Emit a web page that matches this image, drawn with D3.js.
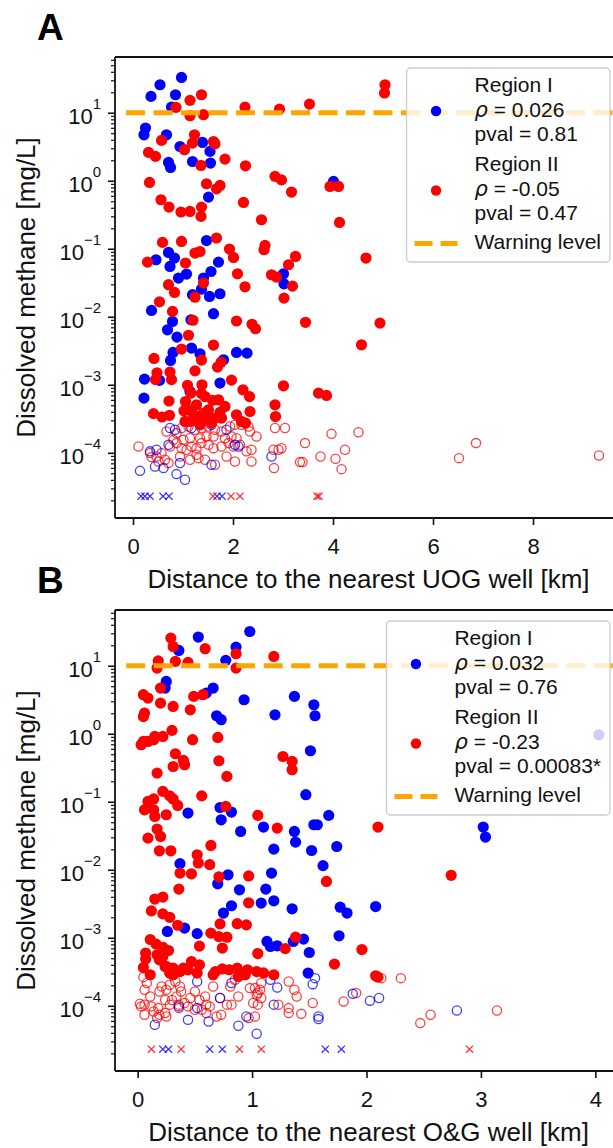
<!DOCTYPE html>
<html lang="en">
<head>
<meta charset="UTF-8">
<title>Dissolved methane vs distance to wells</title>
<script src="https://d3js.org/d3.v7.min.js"></script>
<style>
  body { margin: 0; background: #fff; }
  svg { display: block; font-family: "Liberation Sans", Arial, sans-serif; }
  .domain { display: none; }
  .tick line { stroke: #111; stroke-width: 1.6px; }
</style>
</head>
<body>
<svg id="chart" width="613" height="1148"></svg>
<script>
// ---- DATA: [distance km, methane mg/L] ----
// panel A, nearest UOG well
var uogR1Filled = [[0.54,25.8],[0.97,33],[0.36,17.4],[0.85,18.4],[0.77,12.1],[0.25,5.96],[0.22,4.74],[0.67,4.74],[0.94,3.19],[1.39,3.66],
  [1.54,2.70],[0.71,1.86],[0.75,1.57],[1.19,1.92],[1.55,1.82],[1.51,0.575],[1.47,0.132],[0.46,0.0689],[0.71,0.0883],[0.83,0.0730],
  [0.74,0.0550],[0.91,0.0371],[1.07,0.0425],[1.71,0.0637],[1.56,0.0463],[1.41,0.0371],[1.37,0.0255],[1.19,0.0211],[1.53,0.0199],[1.74,0.0218],
  [3.01,0.0429],[3.02,0.0305],[0.37,0.0124],[1.61,0.0111],[0.79,0.00853],[0.69,0.00644],[1.16,0.00904],[0.88,0.00502],[1.17,0.00347],[0.80,0.00299],
  [0.75,0.00228],[1.34,0.00286],[2.07,0.00299],[2.28,0.00292],[1.81,0.00233],[0.23,0.00121],[0.53,0.00116],[0.22,0.000637],[1.74,0.00106],[1.14,0.000797],
  [4.01,0.977]];
var uogR2Filled = [[1.14,15.2],[1.37,18.4],[0.86,12.0],[1.14,9.04],[1.41,9.35],[2.24,12.1],[2.93,11.3],[3.53,13.4],[5.04,25.8],[5.03,19.5],
  [0.57,3.92],[1.23,4.74],[1.19,3.58],[1.61,3.78],[1.64,3.50],[1.03,2.86],[0.31,2.61],[0.45,2.28],[1.36,1.68],[1.84,2.08],
  [2.25,1.66],[2.84,1.16],[2.97,1.03],[0.33,0.944],[1.47,0.904],[1.74,0.853],[1.67,0.762],[3.17,0.682],[0.56,0.526],[0.72,0.410],
  [0.96,0.347],[1.14,0.354],[1.37,0.410],[1.36,0.299],[2.21,0.480],[2.57,0.267],[3.94,0.824],[4.11,0.824],[4.13,0.244],[0.59,0.124],
  [0.97,0.128],[1.67,0.144],[1.24,0.0865],[1.34,0.0912],[1.93,0.0991],[2.01,0.0745],[2.64,0.112],[2.62,0.0967],[3.25,0.0771],[3.11,0.0582],
  [0.29,0.0637],[1.05,0.0616],[2.09,0.0429],[2.77,0.0415],[2.87,0.0384],[4.66,0.0730],[0.71,0.0296],[0.83,0.0228],[1.41,0.0313],[2.24,0.0276],
  [3.19,0.0282],[3.02,0.0188],[1.24,0.0194],[0.53,0.0166],[0.79,0.0120],[1.20,0.00889],[2.07,0.00867],[2.38,0.00776],[2.45,0.00667],[3.45,0.00830],
  [4.94,0.00807],[4.57,0.00387],[1.11,0.00535],[1.61,0.00384],[0.97,0.00335],[0.42,0.00244],[1.37,0.00231],[1.76,0.00214],[1.69,0.00182],[0.74,0.00154],
  [0.48,0.00150],[1.24,0.00160],[0.45,0.00119],[0.77,0.00119],[1.97,0.00117],[2.20,0.000844],[2.33,0.000672],[3.01,0.000966],[1.09,0.000984],[1.38,0.00100],
  [1.16,0.000755],[1.37,0.000743],[1.44,0.000672],[3.71,0.000755],[3.87,0.000697],[0.72,0.000578],[1.05,0.000568],[1.59,0.000591],[1.71,0.000601],[2.84,0.000508],
  [2.85,0.000342],[2.34,0.000405],[0.41,0.000377],[0.58,0.000336],[0.73,0.000356],[1.11,0.000429],[1.21,0.000362],[1.14,0.000289],[1.31,0.000324],[1.41,0.000384],
  [1.51,0.000429],[1.57,0.000274],[1.64,0.000324],[1.74,0.000395],[1.77,0.000324],[1.04,0.000289],[1.34,0.000258],[1.84,0.000480],[1.27,0.000508],[2.07,0.000362],
  [2.17,0.000289],[2.25,0.000274],[1.02,0.000415],[1.48,0.000305]];
var uogR1Open = [[0.14,5.43e-5],[0.44,6.3e-5],[0.61,5.96e-5],[0.87,4.86e-5],[1.04,4.01e-5],[0.94,7.06e-5],[0.34,1.05e-4],[0.47,1.11e-4],[0.71,1.31e-4],
  [0.74,2.31e-4],[0.84,2.18e-4],[1.17,2.31e-4],[1.57,2.58e-4],[1.87,2.18e-4],[1.57,6.67e-5],[2.04,1.31e-4],[2.11,1.24e-4],[2.77,8.83e-5]];
var uogR2Open = [[0.11,1.24e-4],[0.34,9.9e-5],[0.37,8.65e-5],[0.47,8.83e-5],[0.57,9.9e-5],[0.64,7.89e-5],[0.51,7.45e-5],[0.71,7.06e-5],[0.67,2.06e-4],[0.87,1.95e-4],
  [0.97,2.31e-4],[1.11,2.44e-4],[1.24,2.18e-4],[1.37,2.31e-4],[1.51,2.44e-4],[1.64,2.18e-4],[1.77,2.06e-4],[1.94,2.44e-4],[2.04,2.58e-4],[2.17,2.58e-4],
  [2.31,2.44e-4],[2.34,2.06e-4],[0.74,1.24e-4],[0.87,1.39e-4],[0.97,1.17e-4],[1.07,1.11e-4],[1.17,1.24e-4],[1.27,1.17e-4],[1.37,1.39e-4],[1.51,1.31e-4],
  [1.61,1.17e-4],[1.77,1.24e-4],[1.91,1.39e-4],[2.01,1.24e-4],[2.07,1.64e-4],[2.14,1.31e-4],[2.27,1.05e-4],[2.37,1.11e-4],[0.81,1.55e-4],[1.01,1.55e-4],
  [1.14,1.64e-4],[1.34,1.64e-4],[1.47,1.74e-4],[1.61,1.74e-4],[1.84,1.64e-4],[1.97,1.74e-4],[0.94,8.83e-5],[1.14,7.89e-5],[1.31,8.35e-5],[1.44,7.89e-5],
  [1.64,6.67e-5],[1.87,8.83e-5],[2.04,7.45e-5],[2.37,7.45e-5],[1.27,9.35e-5],[2.47,1.74e-4],[2.84,2.31e-4],[2.91,1.11e-4],[2.81,1.11e-4],[2.97,1.17e-4],
  [2.82,5.96e-5],[3.04,2.31e-4],[3.44,1.39e-4],[3.97,1.90e-4],[4.51,2.01e-4],[3.39,7.3e-5],[3.34,7.3e-5],[3.75,8.83e-5],[4.05,8.17e-5],[4.24,1.11e-4],
  [4.17,5.75e-5],[6.52,8.35e-5],[6.86,1.39e-4],[9.32,9.12e-5]];
var uogR1Cross = [0.16, 0.24, 0.34, 0.60, 0.72, 1.68, 1.78];
var uogR2Cross = [1.60, 1.96, 2.14, 3.68, 3.72];

// panel B, nearest O&G well
var ogR1Filled = [[0.53,26.4],[0.98,31.9],[0.36,16.8],[0.86,18.8],[0.77,12.0],[0.25,5.87],[0.24,4.70],[0.66,4.70],[0.60,3.97],[0.93,3.16],
  [0.69,1.84],[0.73,1.61],[1.20,1.90],[1.37,3.54],[1.54,2.67],[1.55,1.84],[1.51,0.562],[4.03,0.966],[1.47,0.127],[0.44,0.0682],
  [0.72,0.0824],[0.73,0.0543],[0.82,0.0706],[0.90,0.0366],[1.10,0.0425],[1.19,0.0201],[1.37,0.0366],[1.38,0.0255],[1.67,0.0630],[1.54,0.0459],
  [1.57,0.0459],[1.52,0.0192],[1.74,0.0220],[1.62,0.0115],[3.02,0.0425],[3.04,0.0303],[0.37,0.0123],[0.79,0.00843],[0.70,0.00622],[1.17,0.00893],
  [0.89,0.00508],[1.12,0.00520],[0.82,0.00296],[0.75,0.00231],[1.08,0.00324],[1.19,0.00350],[1.35,0.00267],[0.26,0.00124],[0.41,0.00139],[0.52,0.00115],
  [1.13,0.000883],[1.16,0.000745],[1.22,0.000762],[1.36,0.000883],[1.45,0.000957],[1.50,0.000608],[1.49,0.000303],[1.77,0.00282],[1.83,0.00231],[2.08,0.00288],
  [1.76,0.00107]];
var ogR2Filled = [[0.29,25.5],[0.31,19.2],[0.59,17.8],[0.44,11.2],[0.18,11.8],[0.17,9.25],[0.33,11.6],[0.86,15.0],[0.86,9.25],[1.19,13.7],
  [0.20,4.70],[0.05,3.75],[0.09,3.35],[0.20,2.82],[0.31,2.52],[0.49,3.54],[0.57,3.75],[0.46,2.25],[0.05,1.79],[0.06,2.01],
  [0.05,0.771],[0.03,0.689],[0.09,0.771],[0.15,0.912],[0.14,0.817],[0.22,0.912],[0.30,1.12],[0.48,0.817],[0.70,0.883],[0.33,0.508],
  [0.31,0.330],[0.40,0.405],[0.41,0.350],[0.71,0.401],[0.17,0.264],[0.78,0.236],[1.27,0.463],[1.35,0.392],[1.35,0.296],[0.56,0.122],
  [0.22,0.142],[0.28,0.122],[0.31,0.110],[0.14,0.110],[0.09,0.101],[0.06,0.0762],[0.14,0.0762],[0.15,0.0608],[0.25,0.0644],[0.35,0.0883],
  [0.77,0.0853],[1.05,0.0630],[1.22,0.0410],[0.09,0.0292],[0.17,0.0397],[0.20,0.0309],[0.19,0.0190],[0.29,0.0190],[0.52,0.0166],[0.64,0.0228],
  [0.63,0.0119],[0.53,0.0126],[0.37,0.00893],[0.47,0.00873],[0.71,0.00788],[0.97,0.00811],[2.10,0.0425],[2.74,0.00830],[1.65,0.00673],[0.36,0.00520],
  [0.15,0.00371],[0.22,0.00397],[0.97,0.00327],[0.12,0.00249],[0.22,0.00225],[0.28,0.00200],[0.35,0.00153],[0.72,0.00160],[0.87,0.00161],[0.95,0.00155],
  [0.64,0.00117],[0.71,0.00104],[0.78,0.00102],[0.74,0.000706],[0.54,0.000755],[0.11,0.000944],[0.16,0.000811],[0.22,0.000725],[0.27,0.000650],[0.07,0.000596],
  [0.07,0.000488],[0.17,0.000562],[0.22,0.000531],[0.25,0.000379],[1.05,0.000587],[1.29,0.000693],[1.38,0.00102],[0.05,0.000365],[0.11,0.000286],[0.19,0.000474],
  [0.24,0.000379],[0.31,0.000358],[0.28,0.000303],[0.37,0.000319],[0.47,0.000448],[0.54,0.000401],[0.44,0.000338],[0.52,0.000303],[0.68,0.000319],[0.74,0.000348],
  [0.66,0.000286],[0.87,0.000358],[0.96,0.000338],[1.04,0.000319],[1.10,0.000305],[0.94,0.000286],[0.88,0.000270],[1.19,0.000286],[1.96,0.000673],[1.72,0.000410],
  [2.08,0.000276],[2.10,0.000264],[0.40,0.000358],[0.31,0.000286],[0.80,0.000339]];
var ogR1Open = [[0.52,2.28e-4],[0.15,5.26e-5],[0.44,6.22e-5],[0.62,5.87e-5],[0.72,1.30e-4],[0.88,5.08e-5],[1.04,3.88e-5],[0.36,9.8e-5],[0.52,9.25e-5],[0.82,2.16e-4],
  [0.95,6.97e-5],[1.16,2.41e-4],[1.22,1.86e-4],[1.19,1.04e-4],[1.55,2.55e-4],[1.53,2.08e-4],[1.58,6.97e-5],[1.58,6.37e-5],[1.88,1.50e-4],[2.03,1.19e-4],
  [2.11,1.30e-4],[2.79,8.53e-5]];
var ogR2Open = [[0.05,2.64e-4],[0.08,2.16e-4],[0.06,1.72e-4],[0.11,1.37e-4],[0.02,1.07e-4],[0.06,1.04e-4],[0.12,9.8e-5],[0.18,9.25e-5],[0.06,7.38e-5],[0.14,8.24e-5],
  [0.19,7.38e-5],[0.24,7.82e-5],[0.21,1.92e-4],[0.19,1.62e-4],[0.25,1.72e-4],[0.28,2.04e-4],[0.33,2.28e-4],[0.37,1.92e-4],[0.38,1.62e-4],[0.34,1.37e-4],
  [0.30,1.22e-4],[0.24,1.22e-4],[0.28,1.04e-4],[0.36,1.04e-4],[0.41,1.10e-4],[0.46,1.30e-4],[0.50,1.62e-4],[0.54,1.22e-4],[0.59,1.37e-4],[0.60,1.04e-4],
  [0.56,8.73e-5],[0.63,9.8e-5],[0.66,1.92e-4],[0.72,1.30e-4],[0.78,1.04e-4],[0.81,1.92e-4],[0.85,2.41e-4],[0.88,1.37e-4],[0.82,1.04e-4],[0.73,7.38e-5],
  [0.69,6.97e-5],[0.60,7.82e-5],[0.50,8.73e-5],[0.44,9.8e-5],[0.36,9.25e-5],[0.25,6.97e-5],[0.17,6.59e-5],[0.03,9.8e-5],[0.97,6.59e-5],[0.98,1.82e-4],
  [1.01,1.10e-4],[1.05,1.54e-4],[1.08,2.16e-4],[1.025,1.82e-4],[1.07,1.72e-4],[1.04,1.45e-4],[1.08,1.30e-4],[1.05,1.04e-4],[1.025,6.97e-5],[1.32,2.28e-4],
  [1.37,1.72e-4],[1.39,1.37e-4],[1.23,1.04e-4],[1.32,9.25e-5],[1.32,7.82e-5],[1.43,7.62e-5],[1.53,1.10e-4],[1.80,1.16e-4],[1.91,1.54e-4],[2.13,2.55e-4],
  [2.30,2.55e-4],[2.47,5.57e-5],[2.56,7.38e-5],[3.14,8.53e-5]];
var ogR1Cross = [0.22, 0.27, 0.63, 0.74, 1.64, 1.78];
var ogR2Cross = [0.12, 0.38, 0.89, 1.08, 2.90];

var ndLevel = 2.3e-5;   // level where non-detects are plotted
var warningLevel = 10;  // mg/L

var uogLegend = [["Region I", "0.026", "0.81"], ["Region II", "-0.05", "0.47"]];
var ogLegend = [["Region I", "0.032", "0.76"], ["Region II", "-0.23", "0.00083*"]];

// ---- LAYOUT ----
var plotLeft = 115, plotRight = 622, plotHeight = 461;
var yDomain = [1.1e-5, 66];
var blue = "#0000ff", red = "#ff0000", orange = "#ffa500";

var svg = d3.select("#chart");

var panels = [
  { letter: "A", top: 57, xDomain: [-0.36, 9.78], xTicks: [0, 2, 4, 6, 8], warnStart: -0.14,
    xLabel: "Distance to the nearest UOG well [km]",
    r1: uogR1Filled, r2: uogR2Filled, r1Open: uogR1Open, r2Open: uogR2Open,
    r1Cross: uogR1Cross, r2Cross: uogR2Cross, legend: uogLegend },
  { letter: "B", top: 610, xDomain: [-0.198, 4.233], xTicks: [0, 1, 2, 3, 4], warnStart: -0.1,
    xLabel: "Distance to the nearest O&G well [km]",
    r1: ogR1Filled, r2: ogR2Filled, r1Open: ogR1Open, r2Open: ogR2Open,
    r1Cross: ogR1Cross, r2Cross: ogR2Cross, legend: ogLegend }
];

panels.forEach(drawPanel);

function drawPanel(p) {
  var bottom = p.top + plotHeight;
  var x = d3.scaleLinear().domain(p.xDomain).range([plotLeft, plotRight]);
  var y = d3.scaleLog().domain(yDomain).range([bottom, p.top]);

  var clipId = "clip" + p.letter;
  svg.append("clipPath").attr("id", clipId).append("rect")
    .attr("x", plotLeft).attr("y", p.top)
    .attr("width", plotRight - plotLeft).attr("height", plotHeight);

  var plot = svg.append("g").attr("clip-path", "url(#" + clipId + ")");

  /** non-detect open circles and crosses */
  function openCircles(data, color) {
    plot.append("g").selectAll("circle").data(data).enter().append("circle")
      .attr("cx", function (d) { return x(d[0]); })
      .attr("cy", function (d) { return y(d[1]); })
      .attr("r", 4.6)
      .attr("fill", "none")
      .attr("stroke", color).attr("stroke-opacity", 0.75).attr("stroke-width", 1.3);
  }
  openCircles(p.r2Open, red);
  openCircles(p.r1Open, blue);

  function crosses(data, color) {
    plot.append("g").selectAll("path").data(data).enter().append("path")
      .attr("transform", function (d) { return "translate(" + x(d) + "," + y(ndLevel) + ")"; })
      .attr("d", "M-3.6,-3.6L3.6,3.6M-3.6,3.6L3.6,-3.6")
      .attr("stroke", color).attr("stroke-opacity", 0.8).attr("stroke-width", 1.3);
  }
  crosses(p.r1Cross, blue);
  crosses(p.r2Cross, red);

  function filled(data, color) {
    plot.append("g").selectAll("circle").data(data).enter().append("circle")
      .attr("cx", function (d) { return x(d[0]); })
      .attr("cy", function (d) { return y(d[1]); })
      .attr("r", 5.6)
      .attr("fill", color);
  }
  filled(p.r1, blue);
  filled(p.r2, red);

  // warning level
  plot.append("line")
    .attr("x1", x(p.warnStart)).attr("x2", x(p.xDomain[1]))
    .attr("y1", y(warningLevel)).attr("y2", y(warningLevel))
    .attr("stroke", orange).attr("stroke-width", 5.2)
    .attr("stroke-dasharray", "19,8.5");

  // spines
  var spines = svg.append("g").attr("stroke", "#111").attr("stroke-width", 1.8);
  spines.append("line").attr("x1", plotLeft).attr("x2", plotRight).attr("y1", p.top).attr("y2", p.top);
  spines.append("line").attr("x1", plotLeft).attr("x2", plotRight).attr("y1", bottom).attr("y2", bottom);
  spines.append("line").attr("x1", plotLeft).attr("x2", plotLeft).attr("y1", p.top).attr("y2", bottom);
  spines.append("line").attr("x1", plotRight).attr("x2", plotRight).attr("y1", p.top).attr("y2", bottom);

  // x axis
  var xAxisG = svg.append("g")
    .attr("transform", "translate(0," + bottom + ")")
    .call(d3.axisBottom(x).tickValues(p.xTicks).tickSize(7).tickFormat(d3.format("d")));
  xAxisG.selectAll("text")
    .attr("y", 36).attr("dy", null)
    .attr("font-size", 22).attr("fill", "#111")
    .attr("font-family", "Liberation Sans, Arial, sans-serif");

  // y axis: decades with superscripts, plus minor ticks
  var yMajor = [1e-4, 1e-3, 1e-2, 1e-1, 1, 10];
  var yMinor = [];
  for (var k = -5; k <= 1; k++) {
    for (var m = 2; m <= 9; m++) {
      var v = m * Math.pow(10, k);
      if (v > yDomain[0] && v < yDomain[1]) yMinor.push(v);
    }
  }
  svg.append("g")
    .attr("transform", "translate(" + plotLeft + ",0)")
    .call(d3.axisLeft(y).tickValues(yMinor).tickSize(4).tickFormat(""))
    .selectAll(".tick line").style("stroke-width", "1.2px");

  var yAxisG = svg.append("g")
    .attr("transform", "translate(" + plotLeft + ",0)")
    .call(d3.axisLeft(y).tickValues(yMajor).tickSize(7).tickFormat(""));
  yAxisG.selectAll(".tick").each(function (d) {
    var e = Math.round(Math.log10(d));
    var t = d3.select(this).append("text")
      .attr("x", -14).attr("y", 11)
      .attr("text-anchor", "end")
      .attr("fill", "#111")
      .attr("font-family", "Liberation Sans, Arial, sans-serif");
    t.append("tspan").attr("font-size", 22).text("10");
    t.append("tspan").attr("font-size", 15).attr("dy", -15)
      .text(e < 0 ? "\u2212" + (-e) : String(e));
  });

  // axis labels
  svg.append("text")
    .attr("x", (plotLeft + plotRight) / 2).attr("y", p.top + 530.5)
    .attr("text-anchor", "middle").attr("font-size", 26).attr("fill", "#111")
    .text(p.xLabel);
  svg.append("text")
    .attr("transform", "translate(35," + (p.top + plotHeight / 2) + ") rotate(-90)")
    .attr("text-anchor", "middle").attr("font-size", 26).attr("fill", "#111")
    .text("Dissolved methane [mg/L]");

  // panel letter
  svg.append("text")
    .attr("x", 37).attr("y", p.top - 17)
    .attr("font-size", 37).attr("font-weight", "bold").attr("fill", "#000")
    .text(p.letter);

  drawLegend(p);
}

function drawLegend(p) {
  var boxTop = p.top + 11;
  var b0 = p.top + 35;              // first text baseline
  var lineOffsets = [0, 24.5, 48.5, 79, 104, 128];
  var textX = 68;

  var lg = svg.append("g");
  var box = lg.append("rect")
    .attr("y", boxTop).attr("rx", 4).attr("ry", 4)
    .attr("fill", "#fff").attr("fill-opacity", 0.8)
    .attr("stroke", "#cccccc").attr("stroke-width", 1.3);

  var lines = [];
  p.legend.forEach(function (entry, i) {
    var base = i * 3;
    var t0 = lg.append("text").attr("x", textX).attr("y", b0 + lineOffsets[base]).text(entry[0]);
    var t1 = lg.append("text").attr("x", textX).attr("y", b0 + lineOffsets[base + 1]);
    t1.append("tspan").attr("font-family", "DejaVu Sans").attr("font-style", "italic").text("\u03c1");
    t1.append("tspan").text(" = " + entry[1]);
    var t2 = lg.append("text").attr("x", textX).attr("y", b0 + lineOffsets[base + 2]).text("pval = " + entry[2]);
    lines.push(t0, t1, t2);
  });
  var tw = lg.append("text").attr("x", textX).attr("y", b0 + 156.5).text("Warning level");
  lines.push(tw);
  lines.forEach(function (t) { t.attr("font-size", 21).attr("fill", "#111"); });

  var maxW = d3.max(lines, function (t) { return t.node().getComputedTextLength(); });
  var boxW = textX + maxW + 9;
  var boxLeft = plotRight - 12 - boxW;
  box.attr("x", 0).attr("width", boxW).attr("height", (b0 + 170) - boxTop);
  lg.attr("transform", "translate(" + boxLeft + ",0)");

  lg.append("circle").attr("cx", 29.5).attr("cy", b0 + 19).attr("r", 5.2).attr("fill", blue);
  lg.append("circle").attr("cx", 29.5).attr("cy", b0 + 98.5).attr("r", 5.2).attr("fill", red);
  lg.append("line")
    .attr("x1", 8).attr("x2", 51).attr("y1", b0 + 151.5).attr("y2", b0 + 151.5)
    .attr("stroke", orange).attr("stroke-width", 5.2).attr("stroke-dasharray", "18,8");
}
</script>
</body>
</html>
